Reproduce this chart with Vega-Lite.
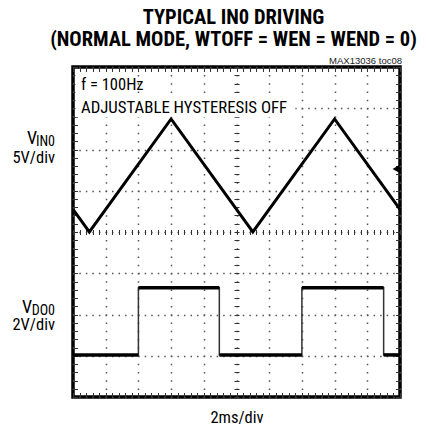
{
  "$schema": "https://vega.github.io/schema/vega-lite/v6.json",
  "width": 327,
  "height": 330,
  "autosize": {"type": "none"},
  "padding": {"left": 73, "top": 67, "right": 26, "bottom": 32},
  "background": "white",
  "config": {
    "view": {"stroke": "black", "strokeWidth": 3.5},
    "font": "Roboto Condensed, DejaVu Sans Condensed, sans-serif"
  },
  "title": {
    "text": ["TYPICAL IN0 DRIVING", "(NORMAL MODE, WTOFF = WEN = WEND = 0)"],
    "font": "Roboto Condensed, DejaVu Sans Condensed, sans-serif",
    "fontWeight": "bold",
    "fontSize": 20.5,
    "lineHeight": 21.5,
    "anchor": "middle",
    "offset": 6,
    "dx": -3,
    "color": "black"
  },
  "datasets": {
    "vin0": [
      {"t": 0, "div": 0.55},
      {"t": 1, "div": 0},
      {"t": 6, "div": 2.74},
      {"t": 11, "div": 0},
      {"t": 16, "div": 2.74},
      {"t": 20, "div": 0.55}
    ],
    "vdo0": [
      {"i": 0, "seg": 0, "t": 0, "div": -2.98},
      {"i": 1, "seg": 0, "t": 4.0, "div": -2.98},
      {"i": 2, "seg": 1, "t": 4.0, "div": -1.35},
      {"i": 3, "seg": 1, "t": 8.95, "div": -1.35},
      {"i": 4, "seg": 2, "t": 8.95, "div": -2.98},
      {"i": 5, "seg": 2, "t": 14.0, "div": -2.98},
      {"i": 6, "seg": 3, "t": 14.0, "div": -1.35},
      {"i": 7, "seg": 3, "t": 19.0, "div": -1.35},
      {"i": 8, "seg": 4, "t": 19.0, "div": -2.98},
      {"i": 9, "seg": 4, "t": 20, "div": -2.98}
    ],
    "one": [{}]
  },
  "layer": [
    {
      "data": {"name": "vin0"},
      "mark": {"type": "point", "opacity": 0},
      "encoding": {
        "x": {"field": "t", "type": "quantitative", "scale": {"domain": [0, 20], "nice": false, "zero": false},
          "axis": {"orient": "bottom", "values": [0, 2, 4, 6, 8, 10, 12, 14, 16, 18, 20], "grid": true, "gridDash": [1.5, 6.75], "gridDashOffset": 0.75, "gridColor": "#555555", "gridWidth": 1.5, "gridOpacity": 1, "ticks": false, "labels": false, "domain": false,
            "title": "2ms/div", "titleFont": "Roboto Condensed, DejaVu Sans Condensed, sans-serif", "titleFontSize": 16.5, "titleFontWeight": "normal", "titleColor": "black", "titleBaseline": "alphabetic", "titlePadding": 25}},
        "y": {"field": "div", "type": "quantitative", "scale": {"domain": [-4, 4], "nice": false, "zero": false},
          "axis": {"orient": "left", "values": [-4, -3, -2, -1, 0, 1, 2, 3, 4], "grid": true, "gridDash": [1.5, 5.04], "gridDashOffset": 0.75, "gridColor": "#555555", "gridWidth": 1.5, "gridOpacity": 1, "ticks": false, "labels": false, "domain": false, "title": null}}
      }
    },
    {
      "data": {"name": "vin0"},
      "mark": {"type": "point", "opacity": 0},
      "encoding": {
        "x": {"field": "t", "type": "quantitative",
          "axis": {"orient": "bottom", "offset": -167.5, "values": [0, 0.4, 0.8, 1.2, 1.6, 2, 2.4, 2.8, 3.2, 3.6, 4, 4.4, 4.8, 5.2, 5.6, 6, 6.4, 6.8, 7.2, 7.6, 8, 8.4, 8.8, 9.2, 9.6, 10, 10.4, 10.8, 11.2, 11.6, 12, 12.4, 12.8, 13.2, 13.6, 14, 14.4, 14.8, 15.2, 15.6, 16, 16.4, 16.8, 17.2, 17.6, 18, 18.4, 18.8, 19.2, 19.6, 20], "grid": false, "ticks": true, "tickSize": 5, "tickColor": "#333333", "tickWidth": 1, "labels": false, "domain": false, "title": null}},
        "y": {"field": "div", "type": "quantitative",
          "axis": {"orient": "left", "offset": -166, "values": [-4, -3.8, -3.6, -3.4, -3.2, -3, -2.8, -2.6, -2.4, -2.2, -2, -1.8, -1.6, -1.4, -1.2, -1, -0.8, -0.6, -0.4, -0.2, 0, 0.2, 0.4, 0.6, 0.8, 1, 1.2, 1.4, 1.6, 1.8, 2, 2.2, 2.4, 2.6, 2.8, 3, 3.2, 3.4, 3.6, 3.8, 4], "grid": false, "ticks": true, "tickSize": 5, "tickColor": "#333333", "tickWidth": 1, "labels": false, "domain": false, "title": null}}
      }
    },
    {
      "data": {"name": "vin0"},
      "mark": {"type": "point", "opacity": 0},
      "encoding": {
        "x": {"field": "t", "type": "quantitative",
          "axis": {"orient": "bottom", "offset": -330, "values": [0, 0.4, 0.8, 1.2, 1.6, 2, 2.4, 2.8, 3.2, 3.6, 4, 4.4, 4.8, 5.2, 5.6, 6, 6.4, 6.8, 7.2, 7.6, 8, 8.4, 8.8, 9.2, 9.6, 10, 10.4, 10.8, 11.2, 11.6, 12, 12.4, 12.8, 13.2, 13.6, 14, 14.4, 14.8, 15.2, 15.6, 16, 16.4, 16.8, 17.2, 17.6, 18, 18.4, 18.8, 19.2, 19.6, 20], "grid": false, "ticks": true, "tickSize": 4.5, "tickColor": "#333333", "tickWidth": 1, "labels": false, "domain": false, "title": null}},
        "y": {"field": "div", "type": "quantitative",
          "axis": {"orient": "right", "offset": -327, "values": [-4, -3.8, -3.6, -3.4, -3.2, -3, -2.8, -2.6, -2.4, -2.2, -2, -1.8, -1.6, -1.4, -1.2, -1, -0.8, -0.6, -0.4, -0.2, 0, 0.2, 0.4, 0.6, 0.8, 1, 1.2, 1.4, 1.6, 1.8, 2, 2.2, 2.4, 2.6, 2.8, 3, 3.2, 3.4, 3.6, 3.8, 4], "grid": false, "ticks": true, "tickSize": 4.5, "tickColor": "#333333", "tickWidth": 1, "labels": false, "domain": false, "title": null}}
      }
    },
    {
      "data": {"name": "vin0"},
      "mark": {"type": "point", "opacity": 0},
      "encoding": {
        "x": {"field": "t", "type": "quantitative",
          "axis": {"orient": "top", "offset": -330, "values": [0, 0.4, 0.8, 1.2, 1.6, 2, 2.4, 2.8, 3.2, 3.6, 4, 4.4, 4.8, 5.2, 5.6, 6, 6.4, 6.8, 7.2, 7.6, 8, 8.4, 8.8, 9.2, 9.6, 10, 10.4, 10.8, 11.2, 11.6, 12, 12.4, 12.8, 13.2, 13.6, 14, 14.4, 14.8, 15.2, 15.6, 16, 16.4, 16.8, 17.2, 17.6, 18, 18.4, 18.8, 19.2, 19.6, 20], "grid": false, "ticks": true, "tickSize": 4.5, "tickColor": "#333333", "tickWidth": 1, "labels": false, "domain": false, "title": null}},
        "y": {"field": "div", "type": "quantitative",
          "axis": {"orient": "left", "offset": -327, "values": [-4, -3.8, -3.6, -3.4, -3.2, -3, -2.8, -2.6, -2.4, -2.2, -2, -1.8, -1.6, -1.4, -1.2, -1, -0.8, -0.6, -0.4, -0.2, 0, 0.2, 0.4, 0.6, 0.8, 1, 1.2, 1.4, 1.6, 1.8, 2, 2.2, 2.4, 2.6, 2.8, 3, 3.2, 3.4, 3.6, 3.8, 4], "grid": false, "ticks": true, "tickSize": 4.5, "tickColor": "#333333", "tickWidth": 1, "labels": false, "domain": false, "title": null}}
      }
    },
    {
      "data": {"name": "one"},
      "mark": {"type": "rect", "color": "white"},
      "encoding": {
        "x": {"datum": 0.15, "type": "quantitative", "axis": null},
        "x2": {"datum": 2.3},
        "y": {"datum": 3.86, "type": "quantitative", "axis": null},
        "y2": {"datum": 3.32}
      }
    },
    {
      "data": {"name": "one"},
      "mark": {"type": "rect", "color": "white"},
      "encoding": {
        "x": {"datum": 0.15, "type": "quantitative", "axis": null},
        "x2": {"datum": 13.6},
        "y": {"datum": 3.32, "type": "quantitative", "axis": null},
        "y2": {"datum": 2.78}
      }
    },
    {
      "data": {"name": "vin0"},
      "mark": {"type": "line", "color": "black", "strokeWidth": 3, "strokeJoin": "miter"},
      "encoding": {
        "x": {"field": "t", "type": "quantitative", "axis": null},
        "y": {"field": "div", "type": "quantitative", "axis": null}
      }
    },
    {
      "data": {"name": "vdo0"},
      "mark": {"type": "line", "color": "#333333", "strokeWidth": 1.5},
      "encoding": {
        "x": {"field": "t", "type": "quantitative", "axis": null},
        "y": {"field": "div", "type": "quantitative", "axis": null},
        "order": {"field": "i", "type": "quantitative"}
      }
    },
    {
      "data": {"name": "vdo0"},
      "mark": {"type": "line", "color": "black", "strokeWidth": 3.5, "strokeCap": "butt"},
      "encoding": {
        "x": {"field": "t", "type": "quantitative", "axis": null},
        "y": {"field": "div", "type": "quantitative", "axis": null},
        "detail": {"field": "seg", "type": "nominal"},
        "order": {"field": "i", "type": "quantitative"}
      }
    },
    {
      "data": {"name": "one"},
      "mark": {"type": "point", "shape": "triangle-left", "filled": true, "color": "black", "fill": "black", "opacity": 1, "fillOpacity": 1, "size": 60},
      "encoding": {
        "x": {"datum": 19.75, "type": "quantitative", "axis": null},
        "y": {"datum": 1.53, "type": "quantitative", "axis": null}
      }
    },
    {
      "data": {"name": "one"},
      "mark": {"type": "text", "text": "f = 100Hz", "align": "left", "baseline": "alphabetic", "dx": 8, "fontSize": 16.5, "color": "black"},
      "encoding": {
        "x": {"datum": 0, "type": "quantitative", "axis": null},
        "y": {"datum": 3.44, "type": "quantitative", "axis": null}
      }
    },
    {
      "data": {"name": "one"},
      "mark": {"type": "text", "text": "ADJUSTABLE HYSTERESIS OFF", "align": "left", "baseline": "alphabetic", "dx": 8, "fontSize": 16.8, "color": "black"},
      "encoding": {
        "x": {"datum": 0, "type": "quantitative", "axis": null},
        "y": {"datum": 2.88, "type": "quantitative", "axis": null}
      }
    },
    {
      "data": {"name": "one"},
      "mark": {"type": "text", "text": "MAX13036 toc08", "align": "right", "baseline": "alphabetic", "dx": 2, "dy": -3, "fontSize": 9.5, "font": "Liberation Sans, sans-serif", "color": "#222222"},
      "encoding": {
        "x": {"datum": 20, "type": "quantitative", "axis": null},
        "y": {"datum": 4, "type": "quantitative", "axis": null}
      }
    },
    {
      "data": {"name": "one"},
      "mark": {"type": "text", "text": "V", "align": "right", "baseline": "alphabetic", "dx": -36, "fontSize": 18, "color": "black"},
      "encoding": {
        "x": {"datum": 0, "type": "quantitative", "axis": null},
        "y": {"datum": 2.13, "type": "quantitative", "axis": null}
      }
    },
    {
      "data": {"name": "one"},
      "mark": {"type": "text", "text": "IN0", "align": "right", "baseline": "alphabetic", "dx": -18, "dy": 2, "fontSize": 14, "color": "black"},
      "encoding": {
        "x": {"datum": 0, "type": "quantitative", "axis": null},
        "y": {"datum": 2.13, "type": "quantitative", "axis": null}
      }
    },
    {
      "data": {"name": "one"},
      "mark": {"type": "text", "text": "5V/div", "align": "right", "baseline": "alphabetic", "dx": -18, "fontSize": 16.5, "color": "black"},
      "encoding": {
        "x": {"datum": 0, "type": "quantitative", "axis": null},
        "y": {"datum": 1.665, "type": "quantitative", "axis": null}
      }
    },
    {
      "data": {"name": "one"},
      "mark": {"type": "text", "text": "V", "align": "right", "baseline": "alphabetic", "dx": -41, "fontSize": 18, "color": "black"},
      "encoding": {
        "x": {"datum": 0, "type": "quantitative", "axis": null},
        "y": {"datum": -1.96, "type": "quantitative", "axis": null}
      }
    },
    {
      "data": {"name": "one"},
      "mark": {"type": "text", "text": "DO0", "align": "right", "baseline": "alphabetic", "dx": -18, "dy": 2, "fontSize": 14, "color": "black"},
      "encoding": {
        "x": {"datum": 0, "type": "quantitative", "axis": null},
        "y": {"datum": -1.96, "type": "quantitative", "axis": null}
      }
    },
    {
      "data": {"name": "one"},
      "mark": {"type": "text", "text": "2V/div", "align": "right", "baseline": "alphabetic", "dx": -18, "fontSize": 16.5, "color": "black"},
      "encoding": {
        "x": {"datum": 0, "type": "quantitative", "axis": null},
        "y": {"datum": -2.376, "type": "quantitative", "axis": null}
      }
    }
  ],
  "resolve": {"axis": {"x": "independent", "y": "independent"}}
}
